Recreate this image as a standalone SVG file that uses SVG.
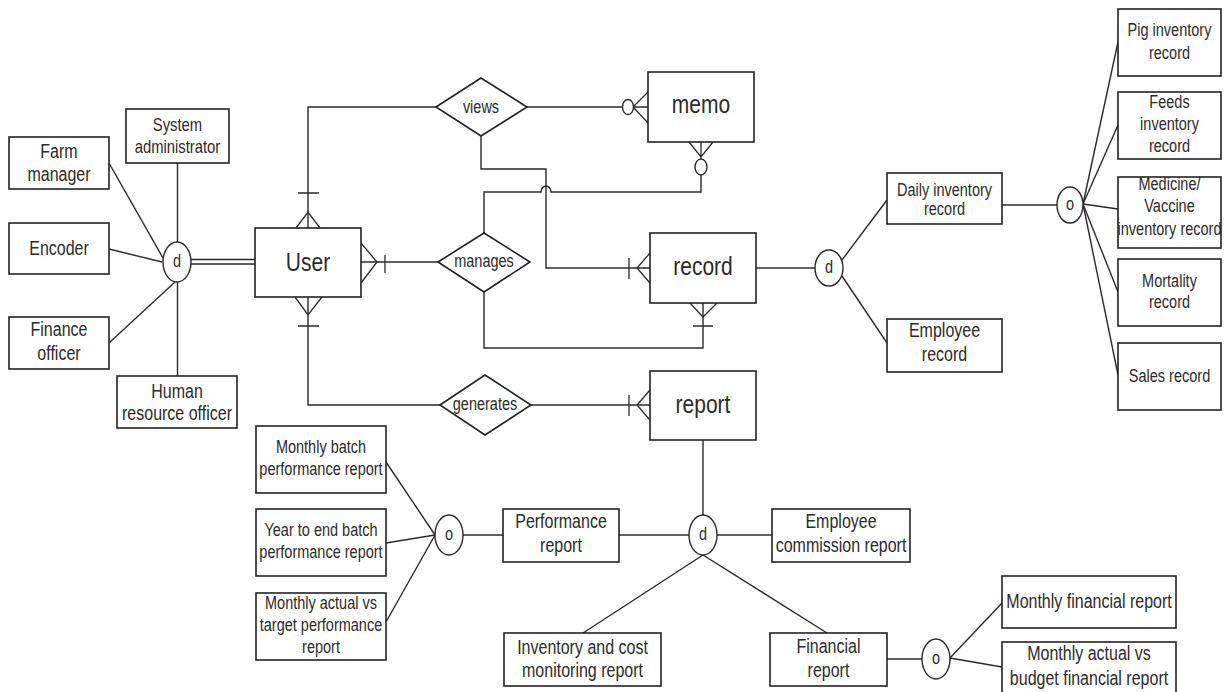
<svg xmlns="http://www.w3.org/2000/svg" width="1230" height="692" viewBox="0 0 1230 692">
<style>
.bx{fill:#fff;stroke:#222;stroke-width:1.6}
.ln{fill:none;stroke:#2a2a2a;stroke-width:1.4}
.cf{fill:none;stroke:#2a2a2a;stroke-width:1.3}
.ci{fill:#fff;stroke:#2a2a2a;stroke-width:1.4}
.t{font-family:"Liberation Sans",Arial,sans-serif;fill:#2b2b2b;text-anchor:middle}
.f14{font-size:14.5px}
.f15{font-size:14.8px}
.f16{font-size:16px}
.f21{font-size:21px}
</style>
<rect width="1230" height="692" fill="#fff"/>
<g id="connectors">
  <line class="ln" x1="109" y1="163" x2="163" y2="258"/>
  <line class="ln" x1="109" y1="249" x2="162" y2="262"/>
  <line class="ln" x1="109" y1="343" x2="175" y2="282"/>
  <line class="ln" x1="177.5" y1="163" x2="177.5" y2="242"/>
  <line class="ln" x1="177.5" y1="376" x2="177.5" y2="282"/>
  <line class="ln" x1="190" y1="259.5" x2="255" y2="259.5"/>
  <line class="ln" x1="190" y1="264" x2="255" y2="264"/>
  <polyline class="ln" points="308,228 308,107 436,107"/>
  <line class="ln" x1="527" y1="107" x2="648" y2="107"/>
  <polyline class="ln" points="481,136 481,169 546,169 546,268 650,268"/>
  <line class="ln" x1="361" y1="262" x2="438" y2="262"/>
  <path class="ln" d="M484,233 V192 H541 A5,6 0 0 1 551,192 H701 V175"/>
  <polyline class="ln" points="484,292 484,348 703,348 703,303"/>
  <polyline class="ln" points="308,297 308,405 440,405"/>
  <line class="ln" x1="531" y1="405" x2="650" y2="405"/>
  <path class="cf" d="M296,228 L308,212 L320,228 M298,193 H319"/>
  <path class="cf" d="M361,243 L377,262 L361,283 M385,255 V273"/>
  <path class="cf" d="M295,297 L308,315 L322,297 M298,326 H319"/>
  <path class="cf" d="M648,92 L633,107 L648,123"/>
  <path class="cf" d="M689,142 L701,157 L713,142 M701,142 V159"/>
  <path class="cf" d="M650,253 L637,268 L650,283 M629,258 V279"/>
  <path class="cf" d="M690,303 L703,317 L717,303 M693,326 H713"/>
  <path class="cf" d="M650,390 L637,405 L650,420 M629,395 V416"/>
  <ellipse class="ci" cx="628" cy="107" rx="5.5" ry="7.5"/>
  <ellipse class="ci" cx="701" cy="167" rx="6" ry="8"/>
  <line class="ln" x1="756" y1="268" x2="815" y2="268"/>
  <line class="ln" x1="842" y1="260" x2="887" y2="200"/>
  <line class="ln" x1="842" y1="276" x2="887" y2="343"/>
  <line class="ln" x1="1002" y1="205" x2="1057" y2="205"/>
  <line class="ln" x1="1083" y1="204" x2="1118" y2="42"/>
  <line class="ln" x1="1083" y1="204" x2="1118" y2="125"/>
  <line class="ln" x1="1083" y1="204" x2="1118" y2="209"/>
  <line class="ln" x1="1083" y1="204" x2="1118" y2="292"/>
  <line class="ln" x1="1083" y1="204" x2="1118" y2="375"/>
  <line class="ln" x1="703" y1="440" x2="703" y2="515"/>
  <line class="ln" x1="619" y1="535" x2="689" y2="535"/>
  <line class="ln" x1="717" y1="535" x2="772" y2="535"/>
  <line class="ln" x1="703" y1="555" x2="583" y2="633"/>
  <line class="ln" x1="703" y1="555" x2="827" y2="633"/>
  <line class="ln" x1="463" y1="535" x2="503" y2="535"/>
  <line class="ln" x1="386" y1="462" x2="435" y2="535"/>
  <line class="ln" x1="386" y1="543" x2="435" y2="535"/>
  <line class="ln" x1="386" y1="622" x2="435" y2="535"/>
  <line class="ln" x1="887" y1="659" x2="922" y2="659"/>
  <line class="ln" x1="950" y1="658" x2="1002" y2="603"/>
  <line class="ln" x1="950" y1="658" x2="1002" y2="667"/>
</g>

<g id="farm-manager"><rect class="bx" x="9" y="137" width="100" height="52"/><text class="t f16" transform="translate(59,157.5) scale(1,1.25)"><tspan x="0" y="0">Farm</tspan><tspan x="0" y="19.2">manager</tspan></text></g>
<g id="system-administrator"><rect class="bx" x="126" y="109" width="103" height="54"/><text class="t f15" transform="translate(177.5,131) scale(1,1.25)"><tspan x="0" y="0">System</tspan><tspan x="0" y="18">administrator</tspan></text></g>
<g id="encoder"><rect class="bx" x="9" y="223" width="100" height="51"/><text class="t f16" transform="translate(59,255) scale(1,1.25)">Encoder</text></g>
<g id="finance-officer"><rect class="bx" x="9" y="317" width="100" height="52"/><text class="t f16" transform="translate(59,336) scale(1,1.25)"><tspan x="0" y="0">Finance</tspan><tspan x="0" y="19.6">officer</tspan></text></g>
<g id="hr-officer"><rect class="bx" x="117" y="376" width="120" height="52"/><text class="t f16" transform="translate(177,397.5) scale(1,1.25)"><tspan x="0" y="0">Human</tspan><tspan x="0" y="18.4">resource officer</tspan></text></g>
<g id="user-spec"><ellipse class="ci" cx="177" cy="262" rx="14" ry="20"/><text class="t f14" transform="translate(177,267) scale(1,1.25)">d</text></g>

<g id="user"><rect class="bx" x="255" y="228" width="106" height="69"/><text class="t f21" transform="translate(308,270.5) scale(1,1.25)">User</text></g>
<g id="memo"><rect class="bx" x="648" y="72" width="106" height="70"/><text class="t f21" transform="translate(701,113) scale(1,1.25)">memo</text></g>
<g id="record"><rect class="bx" x="650" y="233" width="106" height="70"/><text class="t f21" transform="translate(703,275) scale(1,1.25)">record</text></g>
<g id="report"><rect class="bx" x="650" y="371" width="106" height="69"/><text class="t f21" transform="translate(703,412.5) scale(1,1.25)">report</text></g>

<g id="views"><polygon class="bx" points="436,107 481,78 527,107 481,136"/><text class="t f14" transform="translate(481,112.5) scale(1,1.25)">views</text></g>
<g id="manages"><polygon class="bx" points="438,262 484,233 530,262 484,292"/><text class="t f14" transform="translate(484,267) scale(1,1.25)">manages</text></g>
<g id="generates"><polygon class="bx" points="440,405 485,375 531,405 485,435"/><text class="t f14" transform="translate(485,410) scale(1,1.25)">generates</text></g>

<g id="record-spec"><ellipse class="ci" cx="829" cy="268" rx="14" ry="18"/><text class="t f14" transform="translate(829,273) scale(1,1.25)">d</text></g>
<g id="daily-inventory"><rect class="bx" x="887" y="173" width="115" height="51"/><text class="t f14" transform="translate(944.5,195.5) scale(1,1.25)"><tspan x="0" y="0">Daily inventory</tspan><tspan x="0" y="16">record</tspan></text></g>
<g id="employee-record"><rect class="bx" x="887" y="319" width="115" height="53"/><text class="t f16" transform="translate(944.5,337) scale(1,1.25)"><tspan x="0" y="0">Employee</tspan><tspan x="0" y="19.6">record</tspan></text></g>
<g id="daily-spec"><ellipse class="ci" cx="1070" cy="205" rx="13" ry="18"/><text class="t f14" transform="translate(1070,210) scale(1,1.25)">o</text></g>
<g id="pig-inventory"><rect class="bx" x="1118" y="9" width="103" height="67"/><text class="t f14" transform="translate(1169.5,36) scale(1,1.25)"><tspan x="0" y="0">Pig inventory</tspan><tspan x="0" y="18.4">record</tspan></text></g>
<g id="feeds-inventory"><rect class="bx" x="1118" y="92" width="103" height="67"/><text class="t f14" transform="translate(1169.5,108) scale(1,1.25)"><tspan x="0" y="0">Feeds</tspan><tspan x="0" y="17.6">inventory</tspan><tspan x="0" y="35.2">record</tspan></text></g>
<g id="medicine-inventory"><rect class="bx" x="1118" y="177" width="103" height="71"/><text class="t f14" transform="translate(1169.5,190) scale(1,1.25)"><tspan x="0" y="0">Medicine/</tspan><tspan x="0" y="18">Vaccine</tspan><tspan x="0" y="36">inventory record</tspan></text></g>
<g id="mortality"><rect class="bx" x="1118" y="259" width="103" height="67"/><text class="t f14" transform="translate(1169.5,287) scale(1,1.25)"><tspan x="0" y="0">Mortality</tspan><tspan x="0" y="17.2">record</tspan></text></g>
<g id="sales"><rect class="bx" x="1118" y="343" width="103" height="67"/><text class="t f14" transform="translate(1169.5,382) scale(1,1.25)">Sales record</text></g>

<g id="report-spec"><ellipse class="ci" cx="703" cy="535" rx="14" ry="20"/><text class="t f14" transform="translate(703,540) scale(1,1.25)">d</text></g>
<g id="performance-report"><rect class="bx" x="503" y="509" width="116" height="53"/><text class="t f16" transform="translate(561,527.5) scale(1,1.25)"><tspan x="0" y="0">Performance</tspan><tspan x="0" y="20">report</tspan></text></g>
<g id="performance-spec"><ellipse class="ci" cx="449" cy="535" rx="14" ry="20"/><text class="t f14" transform="translate(449,540) scale(1,1.25)">o</text></g>
<g id="monthly-batch"><rect class="bx" x="256" y="426" width="130" height="67"/><text class="t f14" transform="translate(321,452.5) scale(1,1.25)"><tspan x="0" y="0">Monthly batch</tspan><tspan x="0" y="18">performance report</tspan></text></g>
<g id="year-to-end"><rect class="bx" x="256" y="509" width="130" height="67"/><text class="t f14" transform="translate(321,536) scale(1,1.25)"><tspan x="0" y="0">Year to end batch</tspan><tspan x="0" y="17.6">performance report</tspan></text></g>
<g id="monthly-actual-target"><rect class="bx" x="256" y="593" width="130" height="67"/><text class="t f14" transform="translate(321,608.5) scale(1,1.25)"><tspan x="0" y="0">Monthly actual vs</tspan><tspan x="0" y="18">target performance</tspan><tspan x="0" y="36">report</tspan></text></g>
<g id="employee-commission"><rect class="bx" x="772" y="509" width="138" height="53"/><text class="t f16" transform="translate(841,527.5) scale(1,1.25)"><tspan x="0" y="0">Employee</tspan><tspan x="0" y="20">commission report</tspan></text></g>
<g id="inventory-cost"><rect class="bx" x="504" y="633" width="157" height="53"/><text class="t f16" transform="translate(582.5,653.5) scale(1,1.25)"><tspan x="0" y="0">Inventory and cost</tspan><tspan x="0" y="19.2">monitoring report</tspan></text></g>
<g id="financial-report"><rect class="bx" x="770" y="633" width="117" height="53"/><text class="t f16" transform="translate(828.5,653) scale(1,1.25)"><tspan x="0" y="0">Financial</tspan><tspan x="0" y="19.2">report</tspan></text></g>
<g id="financial-spec"><ellipse class="ci" cx="936" cy="659" rx="14" ry="20"/><text class="t f14" transform="translate(936,664) scale(1,1.25)">o</text></g>
<g id="monthly-financial"><rect class="bx" x="1002" y="576" width="174" height="52"/><text class="t f16" transform="translate(1089,608) scale(1,1.25)">Monthly financial report</text></g>
<g id="monthly-actual-budget"><rect class="bx" x="1002" y="642" width="174" height="56"/><text class="t f16" transform="translate(1089,660) scale(1,1.25)"><tspan x="0" y="0">Monthly actual vs</tspan><tspan x="0" y="20">budget financial report</tspan></text></g>
</svg>
